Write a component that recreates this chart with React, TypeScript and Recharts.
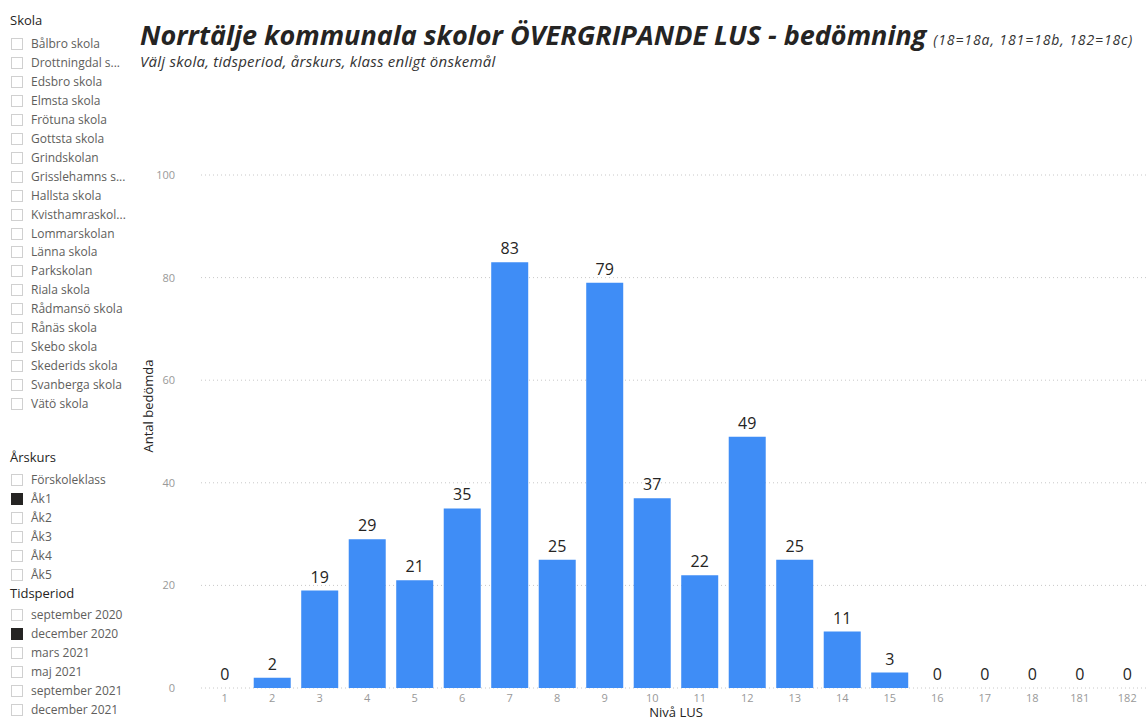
import React from 'react';
import { ComposedChart, Bar, Line, XAxis, YAxis, CartesianGrid, LabelList } from 'recharts';

const levels = ['1', '2', '3', '4', '5', '6', '7', '8', '9', '10', '11', '12', '13', '14', '15', '16', '17', '18', '181', '182'];
const counts = [0, 2, 19, 29, 21, 35, 83, 25, 79, 37, 22, 49, 25, 11, 3, 0, 0, 0, 0, 0];
const yTicks = [0, 20, 40, 60, 80, 100];

const schools = [
  'Bålbro skola', 'Drottningdal s...', 'Edsbro skola', 'Elmsta skola', 'Frötuna skola', 'Gottsta skola',
  'Grindskolan', 'Grisslehamns s...', 'Hallsta skola', 'Kvisthamraskol...', 'Lommarskolan', 'Länna skola',
  'Parkskolan', 'Riala skola', 'Rådmansö skola', 'Rånäs skola', 'Skebo skola', 'Skederids skola',
  'Svanberga skola', 'Vätö skola',
];
const grades = ['Förskoleklass', 'Åk1', 'Åk2', 'Åk3', 'Åk4', 'Åk5'];
const gradesChecked = ['Åk1'];
const periods = ['september 2020', 'december 2020', 'mars 2021', 'maj 2021', 'september 2021', 'december 2021'];
const periodsChecked = ['december 2020'];

const data = levels.map((level, i) => ({ level, count: counts[i] }));

const FONT = "'Segoe UI', 'Open Sans', 'Noto Sans', sans-serif";
const STEP = 18.95;

function Item({ label, checked, cy }: { label: string; checked: boolean; cy: number }) {
  return (
    <div style={{ position: 'absolute', left: 0, top: cy - 9, height: 18, width: 135 }}>
      <div
        style={{
          position: 'absolute',
          left: 11,
          top: 3,
          width: 12,
          height: 12,
          boxSizing: 'border-box',
          border: checked ? '1px solid #252423' : '1px solid #d0d0d0',
          background: checked ? '#252423' : '#fff',
        }}
      />
      <span style={{ position: 'absolute', left: 31, fontSize: 12, color: '#605e5c', whiteSpace: 'nowrap', lineHeight: '18px', top: 0 }}>
        {label}
      </span>
    </div>
  );
}

function Heading({ text, cy }: { text: string; cy: number }) {
  return (
    <div style={{ position: 'absolute', left: 10, top: cy - 10, fontSize: 13, color: '#252423', lineHeight: '20px', fontWeight: 500, whiteSpace: 'nowrap' }}>
      {text}
    </div>
  );
}

export default function App() {
  return (
    <div style={{ position: 'fixed', left: 0, top: 0, width: 1148, height: 720, overflow: 'hidden', background: '#fff', fontFamily: FONT }}>
      <div style={{ position: 'absolute', left: 0, top: 0 }}>
        <ComposedChart
          width={1152}
          height={720}
          data={data}
          margin={{ top: 175, right: 1, bottom: 2, left: 141 }}
          barCategoryGap="11%"
        >
          <CartesianGrid vertical={false} stroke="#c8c8c8" strokeDasharray="1 3" />
          <XAxis
            dataKey="level"
            axisLine={false}
            tickLine={false}
            tickSize={0}
            tickMargin={6}
            interval={0}
            height={30}
            tick={{ fill: '#999', fontSize: 11, fontFamily: FONT }}
          />
          <YAxis
            domain={[0, 100]}
            ticks={yTicks}
            axisLine={false}
            tickLine={false}
            tickSize={0}
            tickMargin={26}
            width={60}
            tick={{ fill: '#999', fontSize: 11, fontFamily: FONT }}
          />
          <Bar dataKey="count" fill="#3F8DF6" isAnimationActive={false} />
          <Line
            dataKey="count"
            stroke="none"
            dot={false}
            activeDot={false}
            legendType="none"
            isAnimationActive={false}
          >
            <LabelList
              dataKey="count"
              position="top"
              offset={8}
              fill="#252423"
              fontSize={16}
              fontFamily={FONT}
              formatter={(v: any) => `${v}`}
            />
          </Line>
        </ComposedChart>
      </div>

      {/* Y axis title */}
      <div
        style={{
          position: 'absolute',
          left: 148 - 60,
          top: 406 - 10,
          width: 120,
          height: 20,
          lineHeight: '20px',
          textAlign: 'center',
          fontSize: 13,
          color: '#252423',
          fontWeight: 500,
          transform: 'rotate(-90deg)',
          whiteSpace: 'nowrap',
        }}
      >
        Antal bedömda
      </div>

      {/* X axis title */}
      <div style={{ position: 'absolute', left: 616, top: 702, width: 120, textAlign: 'center', fontSize: 13, color: '#252423', lineHeight: '20px', fontWeight: 500 }}>
        Nivå LUS
      </div>

      {/* Title */}
      <div style={{ position: 'absolute', left: 140, top: 20, height: 30, lineHeight: '30px', whiteSpace: 'nowrap', color: '#252423' }}>
        <span style={{ fontSize: 27, fontWeight: 700, fontStyle: 'italic' }}>Norrtälje kommunala skolor ÖVERGRIPANDE LUS - bedömning</span>
        <span style={{ fontSize: 14, fontStyle: 'italic', marginLeft: 7, color: '#333', letterSpacing: 0.9 }}>(18=18a, 181=18b, 182=18c)</span>
      </div>
      <div style={{ position: 'absolute', left: 140, top: 52, whiteSpace: 'nowrap', fontSize: 15, fontStyle: 'italic', color: '#333', lineHeight: '18px', letterSpacing: 0.25 }}>
        Välj skola, tidsperiod, årskurs, klass enligt önskemål
      </div>

      {/* Slicers */}
      <div style={{ position: 'absolute', left: 0, top: 15, width: 135, height: 30, overflow: 'hidden' }}>
        <div style={{ position: 'absolute', left: 0, top: -15 }}>
          <Heading text="Skola" cy={20} />
        </div>
      </div>
      {schools.map((s, i) => (
        <Item key={s} label={s} checked={false} cy={44 + i * STEP} />
      ))}

      <Heading text="Årskurs" cy={457} />
      {grades.map((g, i) => (
        <Item key={g} label={g} checked={gradesChecked.includes(g)} cy={480 + i * STEP} />
      ))}

      <Heading text="Tidsperiod" cy={593} />
      {periods.map((p, i) => (
        <Item key={p} label={p} checked={periodsChecked.includes(p)} cy={615 + i * STEP} />
      ))}
    </div>
  );
}
